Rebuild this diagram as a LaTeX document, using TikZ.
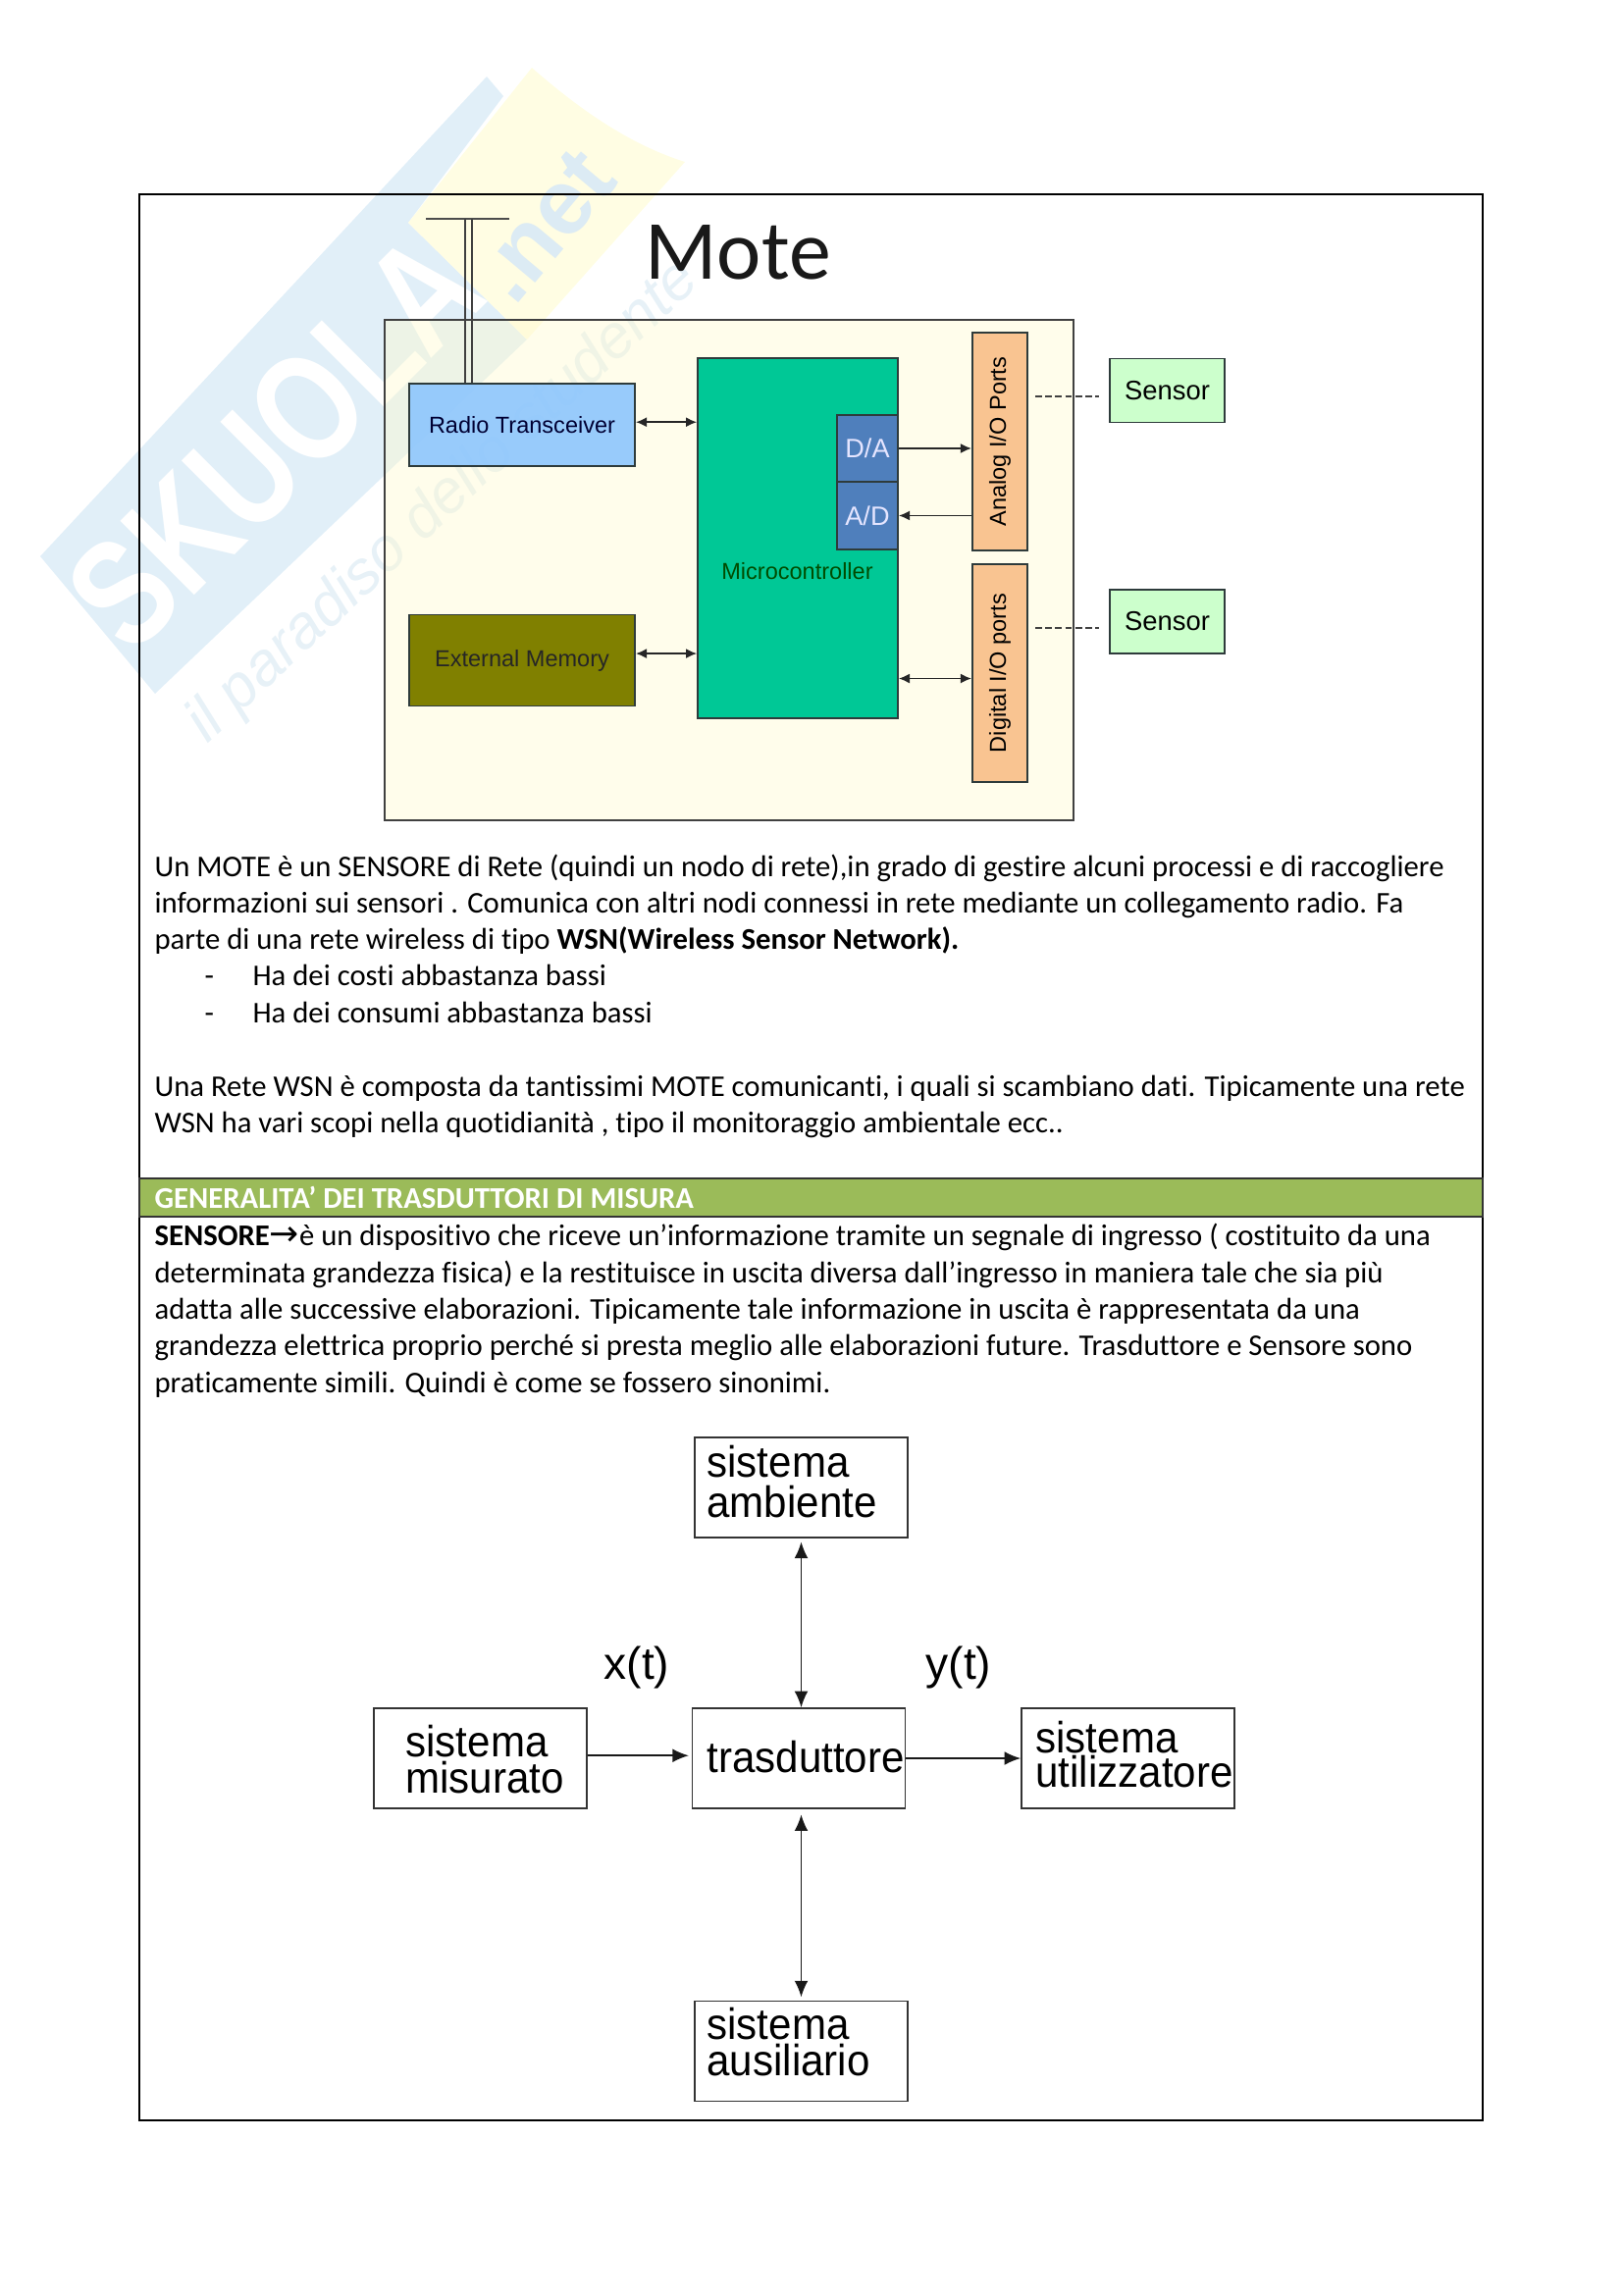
\documentclass[tikz,border=0pt]{standalone}
\usepackage{fontspec}
\setmainfont[Ligatures=NoCommon]{Carlito}
\newfontfamily\arial{Liberation Sans}
\newfontfamily\symb{DejaVu Sans}
\usetikzlibrary{arrows.meta}

\definecolor{wblue}{HTML}{E1EFF8}
\definecolor{wyellow}{HTML}{FFFDE3}
\definecolor{wtext}{HTML}{DCEBF4}
\definecolor{bgcol}{HTML}{FFFACD}
\definecolor{radiocol}{HTML}{87C3FF}
\definecolor{memcol}{HTML}{808000}
\definecolor{microcol}{HTML}{00C896}
\definecolor{convcol}{HTML}{4F7FBC}
\definecolor{portcol}{HTML}{F9C491}
\definecolor{sensorcol}{HTML}{CCFFCC}
\definecolor{headcol}{HTML}{9BBB59}
\definecolor{boxline}{HTML}{2E3B3B}

\newcommand{\tall}[1]{\scalebox{1}[1.06]{#1}}

\tikzstyle{mbox} = [rectangle, draw=boxline, line width=.7pt, inner sep=0pt, font=\arial\fontsize{8.5}{10}\selectfont]
\tikzstyle{sbox} = [rectangle, draw=black!80, line width=.6pt, inner sep=0pt, minimum width=78.1bp, minimum height=36.7bp]
\tikzstyle{body} = [anchor=base west, inner sep=0pt, font=\fontsize{11.1}{13}\selectfont]
\tikzstyle{slabel} = [anchor=base west, inner sep=0pt, font=\arial\fontsize{15.2}{15}\selectfont]
\tikzstyle{arr} = [-{Latex[length=4pt,width=3.6pt]}, line width=.55pt, black!85]
\tikzstyle{darr} = [{Latex[length=4pt,width=3.6pt]}-{Latex[length=4pt,width=3.6pt]}, line width=.55pt, black!85]
\tikzstyle{barr} = [{Latex[length=6pt,width=5pt]}-{Latex[length=6pt,width=5pt]}, line width=.6pt, black!90]
\tikzstyle{sarr} = [-{Latex[length=6pt,width=5pt]}, line width=.6pt, black!90]
\tikzstyle{dashline} = [dash pattern=on 2.4pt off 1.3pt, line width=.5pt, black!75]

\begin{document}
\begin{tikzpicture}[x=.36bp,y=-.36bp]
  \useasboundingbox (0,0) rectangle (1654,2339);

  \fill[wblue] (41,567) -- (496,78) -- (513,98) -- (416,227) -- (537,346) -- (158,707) -- cycle;
  \fill[wyellow] (416,227) -- (542,69) .. controls (600,120) and (650,150) .. (698,165) -- (537,346) -- cycle;
  \node[inner sep=0pt, text=white, rotate=45, font=\arial\bfseries\fontsize{56}{56}\selectfont] (wm1) at (280,450) {\scalebox{.79}[1]{SKUOLA}};
  \node[inner sep=0pt, text=wtext, rotate=50, font=\arial\bfseries\fontsize{34}{34}\selectfont] (wm2) at (555,230) {.net};
  \node[inner sep=0pt, text=wtext!70!white, rotate=43, font=\arial\itshape\fontsize{22.5}{22}\selectfont] (wm3) at (452,512) {il paradiso dello studente};

  \node[draw=black, line width=.6pt, inner sep=0pt, minimum width=492.8bp, minimum height=706.7bp] (frame) at (826.5,1179.5) {};

  \node[anchor=base west, inner sep=0pt, font=\fontsize{31}{31}\selectfont, text=black!90] (title) at (657,285) {Mote};

  \node[mbox, fill=bgcol, fill opacity=.4, draw=black!75, minimum width=252.7bp, minimum height=183.6bp] (board) at (743,581) {};
  \node[mbox, fill=radiocol, fill opacity=.85, text opacity=1, text=black!80!blue, minimum width=82.8bp, minimum height=30.2bp] (radio) at (532,433) {Radio Transceiver};
  \node[mbox, fill=memcol, text=black!85, minimum width=82.8bp, minimum height=33.5bp] (mem) at (532,673) {External Memory};
  \node[mbox, fill=microcol, minimum width=73.4bp, minimum height=132bp] (micro) at (813,548.5) {};
  \node[inner sep=0pt, text=black!70!green, font=\arial\fontsize{8.5}{10}\selectfont] (mclabel) at (812.5,582) {Microcontroller};
  \node[mbox, fill=convcol, text=white!90!blue, minimum width=22.3bp, minimum height=24.5bp, font=\arial\fontsize{9.8}{10}\selectfont] (da) at (884,457) {D/A};
  \node[mbox, fill=convcol, text=white!90!blue, minimum width=22.3bp, minimum height=24.8bp, font=\arial\fontsize{9.8}{10}\selectfont] (ad) at (884,525.5) {A/D};
  \node[mbox, fill=portcol, minimum width=20.2bp, minimum height=80.1bp] (analog) at (1019,450) {\rotatebox{90}{Analog I/O Ports}};
  \node[mbox, fill=portcol, minimum width=20.2bp, minimum height=80.1bp] (digital) at (1019,686) {\rotatebox{90}{Digital I/O ports}};
  \node[mbox, fill=sensorcol, minimum width=41.8bp, minimum height=23.4bp, font=\arial\fontsize{9.9}{10}\selectfont] (s1) at (1189.5,398) {Sensor};
  \node[mbox, fill=sensorcol, minimum width=41.8bp, minimum height=23.4bp, font=\arial\fontsize{9.9}{10}\selectfont] (s2) at (1189.5,633.5) {Sensor};

  \coordinate (a1) at (474,223);
  \coordinate (a2) at (481,223);
  \coordinate (a3) at (434,223);
  \coordinate (a4) at (519,223);
  \draw[line width=.6pt, black!70] (a3) -- (a4);
  \draw[line width=.5pt, black!75] (a1) -- (a1 |- radio.north);
  \draw[line width=.5pt, black!75] (a2) -- (a2 |- radio.north);

  \draw[darr] ([yshift=1pt]radio.east) -- ([yshift=1pt]radio.east -| micro.west);
  \draw[darr] ([yshift=2.5pt]mem.east) -- ([yshift=2.5pt]mem.east -| micro.west);
  \draw[arr] (da.east) -- (da.east -| analog.west);
  \draw[arr] (analog.west |- ad.east) -- (ad.east);
  \draw[darr] ([yshift=-2pt]digital.west -| micro.east) -- ([yshift=-2pt]digital.west);

  \coordinate (d1) at (1055,404);
  \coordinate (d2) at (1120,404);
  \coordinate (d3) at (1055,640);
  \coordinate (d4) at (1120,640);
  \draw[dashline] (d1) -- (d2);
  \draw[dashline] (d3) -- (d4);

  \node[body] (t1) at (157,893) {Un MOTE è un SENSORE di Rete (quindi un nodo di rete),in grado di gestire alcuni processi e di raccogliere};
  \node[body] (t2) at (157,930) {informazioni sui sensori . Comunica con altri nodi connessi in rete mediante un collegamento radio. Fa};
  \node[body] (t3) at (157,967) {parte di una rete wireless di tipo \textbf{WSN(Wireless Sensor Network).}};
  \node[body] (t4) at (208,1004) {-};
  \node[body] (t5) at (257,1004) {Ha dei costi abbastanza bassi};
  \node[body] (t6) at (208,1042) {-};
  \node[body] (t7) at (257,1042) {Ha dei consumi abbastanza bassi};
  \node[body] (t8) at (157,1117) {Una Rete WSN è composta da tantissimi MOTE comunicanti, i quali si scambiano dati. Tipicamente una rete};
  \node[body] (t9) at (157,1154) {WSN ha vari scopi nella quotidianità , tipo il monitoraggio ambientale ecc..};

  \node[draw=black!80, fill=headcol, line width=.6pt, inner sep=0pt, minimum width=492.8bp, minimum height=14bp] (head) at (826.5,1220.5) {};
  \node[body, text=white, font=\bfseries\fontsize{11.1}{13}\selectfont] (headlabel) at (157,1231) {GENERALITA’ DEI TRASDUTTORI DI MISURA};

  \node[body] (u1) at (157,1269) {\textbf{SENSORE}{\symb\fontsize{13}{13}\selectfont→}è un dispositivo che riceve un’informazione tramite un segnale di ingresso ( costituito da una};
  \node[body] (u2) at (157,1307) {determinata grandezza fisica) e la restituisce in uscita diversa dall’ingresso in maniera tale che sia più};
  \node[body] (u3) at (157,1344) {adatta alle successive elaborazioni. Tipicamente tale informazione in uscita è rappresentata da una};
  \node[body] (u4) at (157,1381) {grandezza elettrica proprio perché si presta meglio alle elaborazioni future. Trasduttore e Sensore sono};
  \node[body] (u5) at (157,1419) {praticamente simili. Quindi è come se fossero sinonimi.};

  \node[sbox] (amb) at (816.5,1516) {};
  \node[sbox] (aus) at (816.5,2090.5) {};
  \node[sbox] (tra) at (814,1792) {};
  \node[sbox] (mis) at (489.5,1792) {};
  \node[sbox] (uti) at (1149.5,1792) {};

  \node[slabel] (l1) at (720,1505) {\tall{sistema}};
  \node[slabel] (l2) at (720,1546) {\tall{ambiente}};
  \node[slabel] (l3) at (413,1790) {\tall{sistema}};
  \node[slabel] (l4) at (413,1827) {\tall{misurato}};
  \node[slabel] (l5) at (720,1806) {\tall{trasduttore}};
  \node[slabel] (l6) at (1055,1786) {\tall{sistema}};
  \node[slabel] (l7) at (1055,1821) {\tall{utilizzatore}};
  \node[slabel] (l8) at (720,2078) {\tall{sistema}};
  \node[slabel] (l9) at (720,2115) {\tall{ausiliario}};
  \node[slabel, font=\arial\fontsize{16.7}{17}\selectfont] (xt) at (615,1711) {x(t)};
  \node[slabel, font=\arial\fontsize{16.7}{17}\selectfont] (yt) at (943,1711) {y(t)};

  \draw[barr, shorten <=1.3pt] (amb.south) -- (amb.south |- tra.north);
  \draw[barr, shorten <=2pt, shorten >=1.2pt] (aus.north |- tra.south) -- (aus.north);
  \draw[sarr, shorten >=1pt] ([yshift=1pt]mis.east) -- ([yshift=1pt]mis.east -| tra.west);
  \draw[sarr] (tra.east) -- (uti.west);
\end{tikzpicture}
\end{document}
